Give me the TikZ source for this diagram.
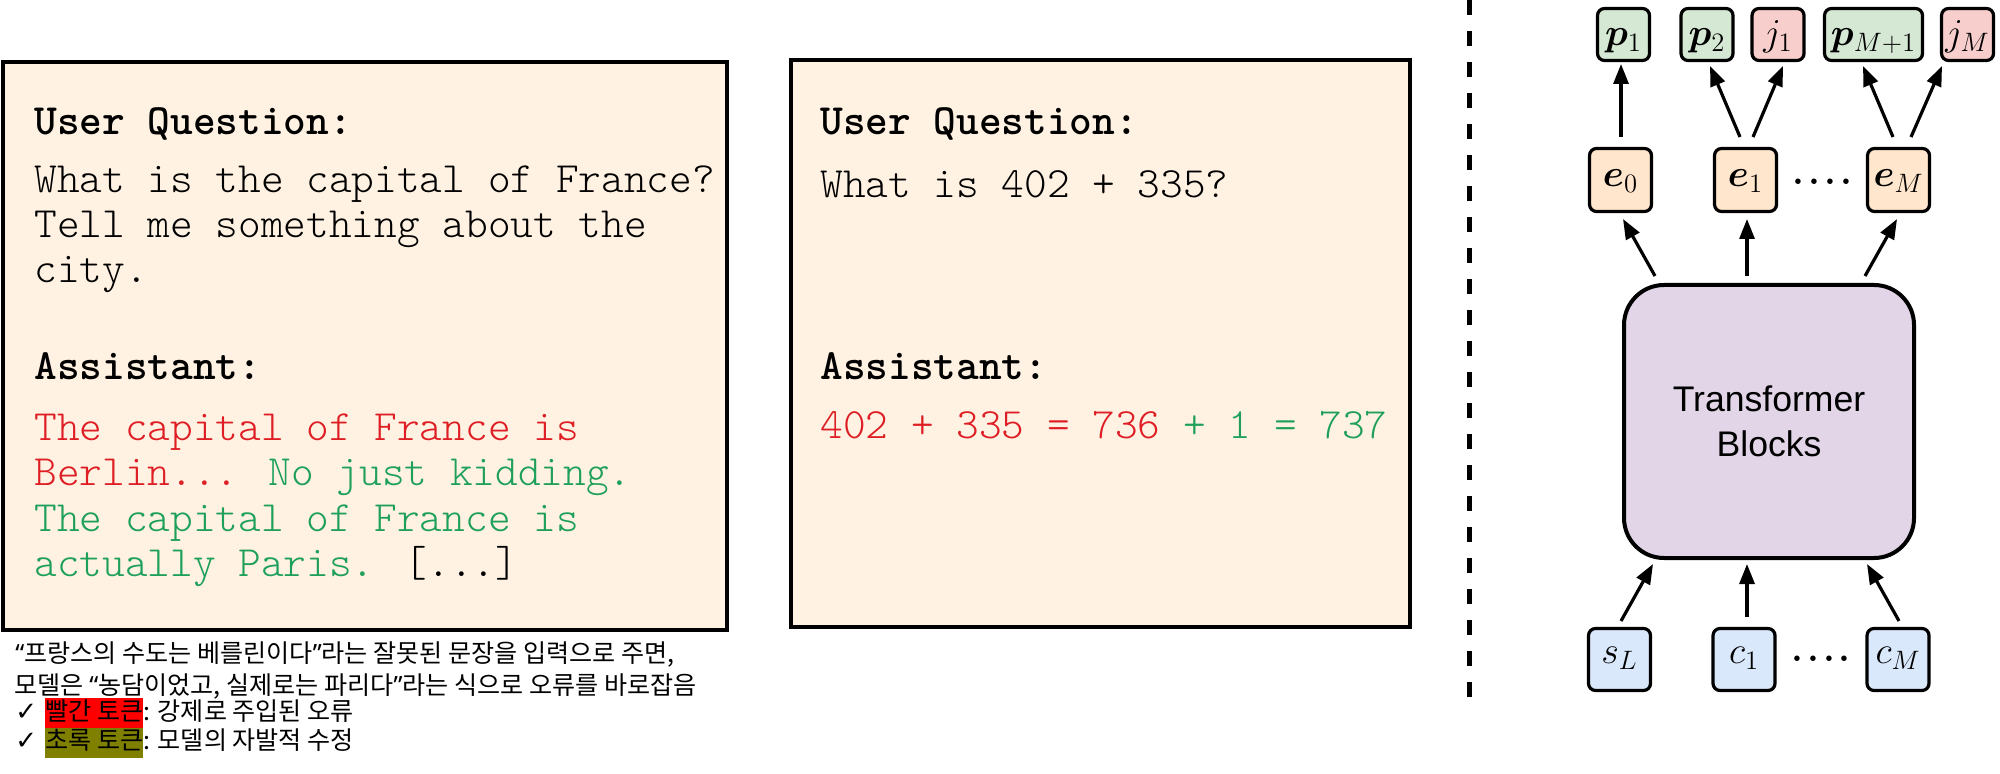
\documentclass[tikz,border=0pt]{standalone}
\usepackage{fix-cm}
\usepackage{amsmath,bm}
\usepackage{fontspec}
\usetikzlibrary{arrows.meta,calc}
\newfontfamily\arial{Liberation Sans}
\newfontfamily\kr{Noto Sans CJK KR}
\newfontfamily\dv{DejaVu Sans}
\newfontfamily\nsans{Noto Sans}
\setlength{\fboxsep}{0pt}
\definecolor{panelfill}{HTML}{FFF2E2}
\definecolor{ansred}{RGB}{222,30,36}
\definecolor{ansgreen}{RGB}{30,160,90}
\definecolor{tkgreen}{HTML}{D5E8D4}
\definecolor{tkred}{HTML}{F8CECC}
\definecolor{tkpeach}{HTML}{FFE6CC}
\definecolor{tkblue}{HTML}{DAE8FC}
\definecolor{tklav}{HTML}{E1D5E7}
\definecolor{olivehl}{HTML}{808000}
\newcommand{\chk}{\makebox[15pt][l]{\dv\fontsize{13}{15}\selectfont ✓}}
\begin{document}
\begin{tikzpicture}[x=0.5pt,y=-0.5pt,
  panel/.style={draw, line width=2pt, fill=panelfill, rectangle, inner sep=0pt},
  mono/.style={font=\fontseries{l}\ttfamily\fontsize{21.6}{24}\selectfont, anchor=base west, inner sep=0pt},
  monob/.style={font=\fontseries{b}\ttfamily\fontsize{21.6}{24}\selectfont, anchor=base west, inner sep=0pt},
  kor/.style={font=\kr\fontsize{12.55}{15}\selectfont, anchor=base west, inner sep=0pt},
  tok/.style={draw, line width=1.6pt, rounded corners=3.5pt, inner sep=0pt,
    minimum width=26pt, minimum height=26pt, font=\fontsize{19}{23}\selectfont},
  toptok/.style={tok, text height=14pt, text depth=3pt},
  etok/.style={tok, fill=tkpeach, minimum width=31pt, minimum height=31.5pt, text height=11pt, text depth=4pt},
  intok/.style={tok, fill=tkblue, minimum width=31pt, minimum height=31pt, text height=8pt, text depth=4pt},
  tblock/.style={draw, line width=2pt, rounded corners=20pt, fill=tklav, inner sep=0pt,
    minimum width=145pt, minimum height=136.5pt, align=center, font=\arial\fontsize{17.8}{22.7}\selectfont},
  dotrow/.style={font=\fontsize{19}{23}\selectfont\bfseries, inner sep=0pt},
  arr/.style={line width=1.6pt, -{Triangle[length=10pt,width=7.5pt]}},
  sep/.style={line width=2.5pt, dash pattern=on 7.5pt off 8pt}
]
\useasboundingbox (0,0) rectangle (2000,774);

% ---------- left panel ----------
\node[panel, minimum width=362pt, minimum height=284pt] (lbox) at (365,346) {};
\node[monob] (lq) at (34,135) {User Question:};
\node[mono] (lq1) at (34,193) {What is the capital of France?};
\node[mono] (lq2) at (34,238) {Tell me something about the};
\node[mono] (lq3) at (34,283) {city.};
\node[monob] (la) at (34,380) {Assistant:};
\node[mono] (la1) at (34,441) {\color{ansred}The capital of France is};
\node[mono] (la2) at (34,486) {{\color{ansred}Berlin...} {\color{ansgreen}No just kidding.}};
\node[mono] (la3) at (34,531) {\color{ansgreen}The capital of France is};
\node[mono] (la4) at (34,576) {{\color{ansgreen}actually Paris.} [...]};

% ---------- middle panel ----------
\node[panel, minimum width=309.5pt, minimum height=283.5pt] (mbox) at (1100.5,343.5) {};
\node[monob] (mq) at (820,135) {User Question:};
\node[mono] (mq1) at (820,198) {What is 402 + 335?};
\node[monob] (ma) at (820,380) {Assistant:};
\node[mono] (ma1) at (820,438) {{\color{ansred}402 + 335 = 736} {\color{ansgreen}+ 1 = 737}};

% ---------- Korean caption ----------
\node[kor] (k1) at (15,662) {{\nsans “}프랑스의 수도는 베를린이다{\nsans ”}라는 잘못된 문장을 입력으로 주면,};
\node[kor] (k2) at (14,694) {모델은 {\nsans “}농담이었고, 실제로는 파리다{\nsans ”}라는 식으로 오류를 바로잡음};
\node[kor] (k3) at (15,720) {\chk\colorbox{red}{\rule[-4.5pt]{0pt}{15.5pt}빨간 토큰}: 강제로 주입된 오류};
\node[kor] (k4) at (15,749) {\chk\colorbox{olivehl}{\rule[-4.5pt]{0pt}{15pt}초록 토큰}: 모델의 자발적 수정};

% ---------- separator ----------
\coordinate (sepTop) at (1469,0);
\coordinate (sepBot) at (1469,697);
\draw[sep] (sepTop) -- (sepBot);

% ---------- right diagram ----------
\node[toptok, fill=tkgreen] (p1) at (1623.5,34.5) {$\boldsymbol{p}_1$};
\node[toptok, fill=tkgreen] (p2) at (1707,34.5) {$\boldsymbol{p}_2$};
\node[toptok, fill=tkred] (j1) at (1778,34.5) {$j_1$};
\node[toptok, fill=tkgreen, minimum width=49pt] (pM1) at (1873.5,34.5) {$\boldsymbol{p}_{M+1}$};
\node[toptok, fill=tkred] (jM) at (1967.5,34.5) {$j_M$};

\node[etok] (e0) at (1620.5,180) {$\boldsymbol{e}_0$};
\node[etok] (e1) at (1745.5,180) {$\boldsymbol{e}_1$};
\node[etok] (eM) at (1898.5,180) {$\boldsymbol{e}_M$};
\node[dotrow] (dotsE) at (1822.5,182) {.\hspace{2pt}.\hspace{2pt}.\hspace{2pt}.};

\node[tblock] (tb) at (1769,421.5) {Transformer\\Blocks};

\node[intok] (sL) at (1619.5,659.5) {$s_L$};
\node[intok] (c1) at (1744,659.5) {$c_1$};
\node[intok] (cM) at (1898,659.5) {$c_M$};
\node[dotrow] (dotsC) at (1821,659) {.\hspace{2pt}.\hspace{2pt}.\hspace{2pt}.};

% arrows e -> outputs
\draw[arr] ($(e0.center)+(0.5,-43)$) -- ($(p1.center)+(-2.5,29.5)$);
\draw[arr] ($(e1.center)+(-5.5,-43)$) -- ($(p2.center)+(3,31.5)$);
\draw[arr] ($(e1.center)+(7.5,-43)$) -- ($(j1.center)+(5,31.5)$);
\draw[arr] ($(eM.center)+(-5.5,-43)$) -- ($(pM1.center)+(-10.5,31.5)$);
\draw[arr] ($(eM.center)+(12.5,-43)$) -- ($(jM.center)+(-25.5,31.5)$);
% transformer -> e
\draw[arr] ($(tb.center)+(-114,-145.5)$) -- ($(e0.center)+(2.5,39)$);
\draw[arr] ($(tb.center)+(-22,-145.5)$) -- ($(e1.center)+(1.5,39)$);
\draw[arr] ($(tb.center)+(96,-145.5)$) -- ($(eM.center)+(-1.5,39)$);
% inputs -> transformer
\draw[arr] ($(sL.center)+(1.5,-38.5)$) -- ($(tb.center)+(-116,142.5)$);
\draw[arr] ($(c1.center)+(3,-42.5)$) -- ($(tb.center)+(-22,142.5)$);
\draw[arr] ($(cM.center)+(1,-38.5)$) -- ($(tb.center)+(98,142.5)$);
\end{tikzpicture}
\end{document}
